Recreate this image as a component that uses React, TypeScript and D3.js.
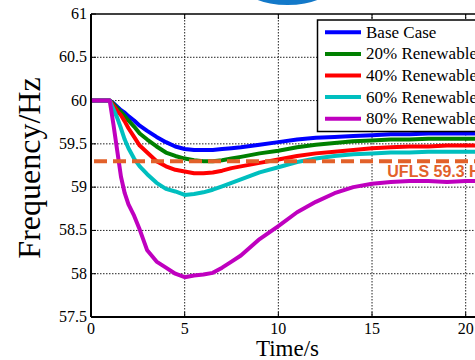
import React from "react";
import * as d3 from "d3";

const timeS = [0, 1, 1.2, 1.4, 1.6, 1.8, 2, 2.3, 2.6, 3, 3.5, 4, 4.5, 5, 5.5, 6, 6.5, 7, 7.5, 8, 9, 10, 11, 12, 13, 14, 15, 16, 17, 18, 19, 20, 21];
const baseCase = [60, 60, 59.97, 59.93, 59.89, 59.86, 59.82, 59.77, 59.71, 59.65, 59.58, 59.52, 59.47, 59.44, 59.43, 59.43, 59.43, 59.44, 59.45, 59.46, 59.49, 59.52, 59.55, 59.57, 59.58, 59.59, 59.6, 59.61, 59.61, 59.62, 59.62, 59.62, 59.62];
const renew20 = [60, 60, 59.96, 59.91, 59.87, 59.82, 59.77, 59.7, 59.62, 59.55, 59.47, 59.4, 59.36, 59.33, 59.31, 59.3, 59.3, 59.31, 59.33, 59.35, 59.39, 59.42, 59.46, 59.49, 59.51, 59.53, 59.54, 59.55, 59.55, 59.56, 59.56, 59.56, 59.56];
const renew40 = [60, 60, 59.94, 59.88, 59.83, 59.76, 59.68, 59.58, 59.48, 59.4, 59.3, 59.24, 59.2, 59.18, 59.16, 59.16, 59.17, 59.19, 59.22, 59.24, 59.28, 59.32, 59.36, 59.39, 59.41, 59.43, 59.45, 59.46, 59.47, 59.47, 59.48, 59.48, 59.48];
const renew60 = [60, 60, 59.9, 59.8, 59.68, 59.55, 59.45, 59.33, 59.24, 59.15, 59.05, 58.98, 58.95, 58.91, 58.92, 58.94, 58.97, 59.01, 59.05, 59.09, 59.17, 59.23, 59.29, 59.33, 59.36, 59.38, 59.39, 59.4, 59.4, 59.41, 59.41, 59.41, 59.41];
const renew80 = [60, 60, 59.72, 59.42, 59.12, 58.93, 58.8, 58.67, 58.51, 58.27, 58.14, 58.07, 58.0, 57.96, 57.98, 57.99, 58.01, 58.07, 58.14, 58.21, 58.4, 58.55, 58.71, 58.83, 58.93, 59.0, 59.04, 59.06, 59.07, 59.07, 59.06, 59.07, 59.07];

const seriesNames = ["Base Case", "20% Renewable", "40% Renewable", "60% Renewable", "80% Renewable"];
const seriesColors = ["#0000ff", "#008000", "#ff0000", "#00bfbf", "#bf00bf"];
const seriesValues = [baseCase, renew20, renew40, renew60, renew80];

const xTicks = [0, 5, 10, 15, 20];
const yTicks = [57.5, 58, 58.5, 59, 59.5, 60, 60.5, 61];
const uflsLevel = 59.3;
const uflsLabel = "UFLS 59.3 Hz";

export default function App() {
  const W = 475, H = 360;
  const left = 91, top = 14, bottom = 317;
  const x = d3.scaleLinear().domain([0, 20]).range([left, 465.7]);
  const y = d3.scaleLinear().domain([57.5, 61]).range([bottom, top]);
  const xEnd = x(25);
  const line = d3.line<number>().x((_, i) => x(timeS[i])).y((v) => y(v)).curve(d3.curveLinear);
  const serif = "'Liberation Serif', 'Times New Roman', serif";

  return (
    <svg width={W} height={H} style={{ position: "absolute", left: 0, top: 0, background: "#fff" }}>
      <rect width={W} height={H} fill="#fff" />
      <ellipse cx={287.5} cy={-15} rx={45} ry={20} fill="#1379c9" />
      {/* grid */}
      {xTicks.filter((t) => t > 0).map((t) => (
        <line key={"gx" + t} x1={x(t)} x2={x(t)} y1={top} y2={bottom} stroke="#222" strokeWidth={1} strokeDasharray="1.5,1.5" />
      ))}
      {yTicks.filter((v) => v > 57.5 && v < 61).map((v) => (
        <line key={"gy" + v} x1={left} x2={xEnd} y1={y(v)} y2={y(v)} stroke="#222" strokeWidth={1} strokeDasharray="1.5,1.5" />
      ))}
      {/* ticks */}
      {xTicks.map((t) => (
        <g key={"tx" + t}>
          <line x1={x(t)} x2={x(t)} y1={bottom} y2={bottom - 5} stroke="#000" />
          <line x1={x(t)} x2={x(t)} y1={top} y2={top + 5} stroke="#000" />
          <text x={x(t)} y={334} textAnchor="middle" fontFamily={serif} fontSize={16} fill="#000">{t}</text>
        </g>
      ))}
      {yTicks.map((v) => (
        <g key={"ty" + v}>
          <line x1={left} x2={left + 5} y1={y(v)} y2={y(v)} stroke="#000" />
          <text x={87} y={y(v) + 5} textAnchor="end" fontFamily={serif} fontSize={16} fill="#000">{v}</text>
        </g>
      ))}
      {/* series */}
      {seriesValues.map((vals, i) => (
        <path key={"s" + i} d={line(vals) || ""} fill="none" stroke={seriesColors[i]} strokeWidth={4} strokeLinejoin="round" />
      ))}
      {/* UFLS */}
      <line x1={94} x2={xEnd} y1={y(uflsLevel)} y2={y(uflsLevel)} stroke="#e2612a" strokeWidth={4} strokeDasharray="13,6" />
      <text x={387.3} y={176.5} fontFamily="'Liberation Sans', Arial, sans-serif" fontWeight="bold" fontSize={16} fill="#e2612a">{uflsLabel}</text>
      {/* axes box */}
      <line x1={left} x2={xEnd} y1={top} y2={top} stroke="#000" strokeWidth={1.5} />
      <line x1={left} x2={xEnd} y1={bottom} y2={bottom} stroke="#000" strokeWidth={2} />
      <line x1={left} x2={left} y1={top} y2={bottom} stroke="#000" strokeWidth={2} />
      {/* legend */}
      <rect x={317.5} y={20} width={200} height={111.5} fill="#fff" stroke="#000" strokeWidth={1.5} />
      {seriesNames.map((n, i) => {
        const ly = 32.3 + i * 21.6;
        return (
          <g key={"lg" + i}>
            <line x1={325} x2={361} y1={ly} y2={ly} stroke={seriesColors[i]} strokeWidth={4} />
            <text x={366} y={ly + 5.5} fontFamily={serif} fontSize={17} fill="#000">{n}</text>
          </g>
        );
      })}
      {/* axis titles */}
      <text x={287.5} y={356} textAnchor="middle" fontFamily={serif} fontSize={23} fill="#000">Time/s</text>
      <text transform={`translate(40,168) rotate(-90)`} textAnchor="middle" fontFamily={serif} fontSize={32} fill="#000">Frequency/Hz</text>
    </svg>
  );
}
